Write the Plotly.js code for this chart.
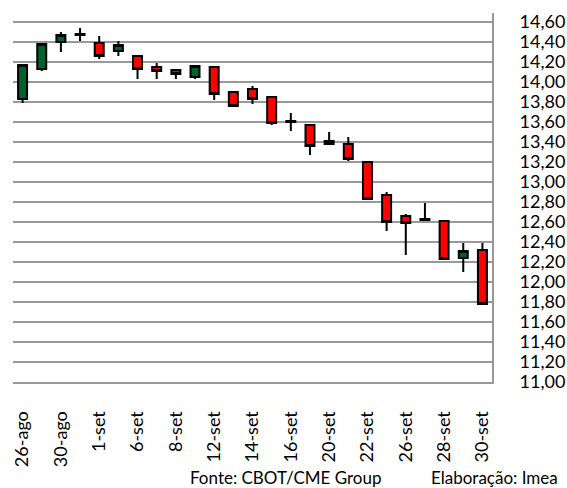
<!DOCTYPE html>
<html>
<head>
<meta charset="utf-8">
<script src="https://cdn.plot.ly/plotly-3.0.1.min.js"></script>
<style>html,body{margin:0;padding:0;background:#fff;}#chart{width:567px;height:488px;}</style>
</head>
<body>
<div id="chart"></div>
<script>
const dates = ['26-ago','29-ago','30-ago','31-ago','1-set','2-set','6-set','7-set','8-set','9-set','12-set','13-set','14-set','15-set','16-set','19-set','20-set','21-set','22-set','23-set','26-set','27-set','28-set','29-set','30-set'];
const openV  = [13.83,14.13,14.40,14.48,14.39,14.31,14.26,14.15,14.12,14.05,14.15,13.90,13.93,13.85,13.61,13.57,13.41,13.38,13.20,12.87,12.66,12.63,12.61,12.24,12.32];
const highV  = [14.18,14.39,14.50,14.54,14.46,14.41,14.27,14.19,14.12,14.17,14.16,13.90,13.96,13.86,13.69,13.58,13.50,13.45,13.20,12.90,12.68,12.79,12.62,12.39,12.39];
const lowV   = [13.79,14.11,14.30,14.41,14.23,14.26,14.03,14.03,14.03,14.03,13.82,13.75,13.78,13.57,13.51,13.27,13.37,13.21,12.82,12.51,12.27,12.61,12.22,12.10,11.77];
const closeV = [14.17,14.38,14.47,14.47,14.26,14.37,14.13,14.11,14.08,14.16,13.88,13.76,13.83,13.59,13.60,13.36,13.38,13.23,12.83,12.60,12.59,12.62,12.23,12.31,11.78];
const tickLabels = ['26-ago','30-ago','1-set','6-set','8-set','12-set','14-set','16-set','20-set','22-set','26-set','28-set','30-set'];
const yTicks = [11.0,11.2,11.4,11.6,11.8,12.0,12.2,12.4,12.6,12.8,13.0,13.2,13.4,13.6,13.8,14.0,14.2,14.4,14.6];
const sourceText = 'Fonte: CBOT/CME Group';
const authorText = 'Elaboração: Imea';

const trace = {
  type: 'candlestick',
  x: dates, open: openV, high: highV, low: lowV, close: closeV,
  increasing: {fillcolor: '#00622d', line: {color: '#000000', width: 2}},
  decreasing: {fillcolor: '#ff0000', line: {color: '#000000', width: 2}},
  whiskerwidth: 0,
  hoverinfo: 'none'
};

const layout = {
  width: 567, height: 488,
  margin: {l: 13, r: 75, t: 13, b: 106},
  paper_bgcolor: '#ffffff', plot_bgcolor: '#ffffff',
  separators: ',.',
  showlegend: false,
  boxgap: 0.33, boxgroupgap: 0.3,
  font: {family: 'Lato, "Open Sans", sans-serif', color: '#000000', size: 18},
  xaxis: {
    type: 'category',
    tickvals: tickLabels, ticktext: tickLabels,
    tickangle: -90,
    showgrid: false,
    showline: true, linecolor: '#999999', linewidth: 2,
    ticks: '', ticklabelstandoff: 20,
    tickfont: {size: 18},
    rangeslider: {visible: false},
    fixedrange: true
  },
  yaxis: {
    side: 'right',
    range: [11, 14.69],
    tickvals: yTicks,
    tickformat: '.2f',
    showgrid: true, gridcolor: '#999999', gridwidth: 2,
    showline: true, linecolor: '#999999', linewidth: 2,
    zeroline: false,
    ticks: '', ticklabelstandoff: 22,
    tickfont: {size: 18},
    fixedrange: true
  },
  annotations: [
    {text: sourceText, xref: 'paper', yref: 'paper', x: (188-13)/479, y: -0.26, xanchor: 'left', yanchor: 'middle', showarrow: false, font: {size: 17}},
    {text: authorText, xref: 'paper', yref: 'paper', x: (429-13)/479, y: -0.26, xanchor: 'left', yanchor: 'middle', showarrow: false, font: {size: 17}}
  ]
};

Plotly.newPlot('chart', [trace], layout, {displayModeBar: false, staticPlot: true});
</script>
</body>
</html>
